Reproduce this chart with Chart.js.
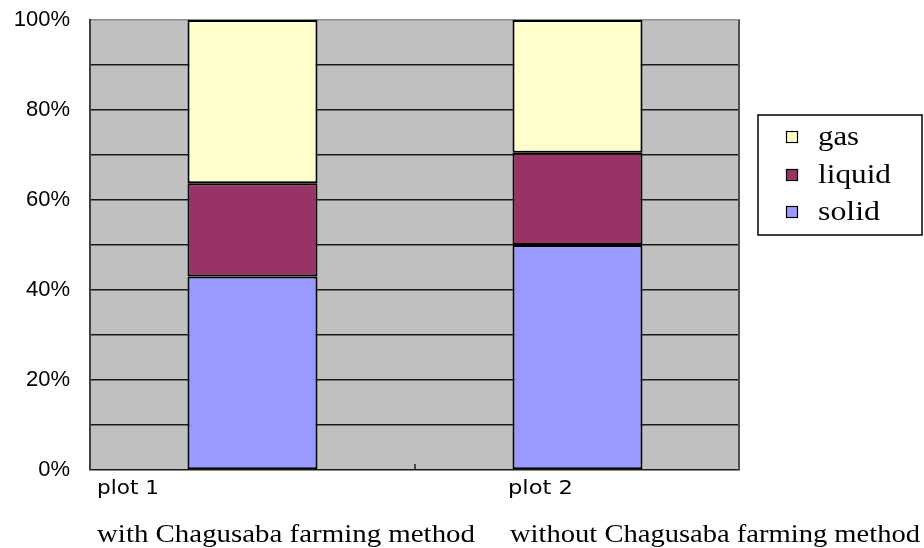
<!DOCTYPE html>
<html>
<head>
<meta charset="utf-8">
<script src="https://cdn.jsdelivr.net/npm/chart.js@4.4.0/dist/chart.umd.min.js"></script>
<style>
  html, body { margin:0; padding:0; background:#fff; }
</style>
</head>
<body>
<canvas id="chart" width="924" height="548"></canvas>
<script>
// data
var plots = ["plot 1", "plot 2"];
var methods = ["with Chagusaba farming method", "without Chagusaba farming method"];
var solid = [43, 50];
var liquid = [20.7, 20.5];
var gas = [36.3, 29.5];
var yLabels = [0, 20, 40, 60, 80, 100];

// draw text stretched to a given width (the original fonts are wider)
function fitText(ctx, text, x, y, w) {
  var m = ctx.measureText(text).width;
  ctx.save();
  ctx.translate(x, y);
  ctx.scale(w / m, 1);
  ctx.fillText(text, 0, 0);
  ctx.restore();
}

// grey plot background + right frame + middle tick
var frame = {
  id: "frame",
  beforeDraw: function(chart) {
    var a = chart.chartArea, ctx = chart.ctx;
    ctx.save();
    ctx.fillStyle = "#c0c0c0";
    ctx.fillRect(a.left, a.top, a.right - a.left, a.bottom - a.top);
    ctx.restore();
  },
  beforeDatasetsDraw: function(chart) {
    var a = chart.chartArea, ctx = chart.ctx;
    var xs = chart.scales.x;
    ctx.save();
    ctx.strokeStyle = "#505050";
    ctx.lineWidth = 2;
    ctx.beginPath();
    ctx.moveTo(a.right - 1, a.top);
    ctx.lineTo(a.right - 1, a.bottom);
    ctx.stroke();
    var mid = (xs.getPixelForValue(0) + xs.getPixelForValue(1)) / 2;
    ctx.strokeStyle = "#222";
    ctx.lineWidth = 1.5;
    ctx.beginPath();
    ctx.moveTo(mid, a.bottom);
    ctx.lineTo(mid, a.bottom - 6);
    ctx.stroke();
    ctx.restore();
  },
  afterDraw: function(chart) {
    var ctx = chart.ctx;
    ctx.save();
    ctx.fillStyle = "#000";
    ctx.textBaseline = "alphabetic";
    // category labels
    ctx.font = "20px 'DejaVu Sans'";
    fitText(ctx, plots[0], 97, 494, 62);
    fitText(ctx, plots[1], 508, 494, 65);
    ctx.font = "26px 'Liberation Serif'";
    fitText(ctx, methods[0], 97, 542, 378);
    fitText(ctx, methods[1], 510, 542, 410);

    // legend
    ctx.lineWidth = 1.5;
    ctx.strokeStyle = "#000";
    ctx.strokeRect(758, 115, 164, 120);
    var ds = chart.data.datasets.slice().reverse();
    var rowY = [137, 175, 212];
    var legW = [41, 73, 62];
    ctx.font = "28px 'Liberation Serif'";
    ds.forEach(function(d, i) {
      ctx.fillStyle = d.backgroundColor;
      ctx.fillRect(786, rowY[i] - 6, 12, 12);
      ctx.lineWidth = 1.2;
      ctx.strokeRect(786.5, rowY[i] - 5.5, 11, 11);
      ctx.fillStyle = "#000";
      fitText(ctx, d.label, 818, rowY[i] + 8, legW[i]);
    });
    ctx.restore();
  }
};

new Chart(document.getElementById("chart"), {
  type: "bar",
  data: {
    labels: plots,
    datasets: [
      { label: "solid", data: solid, backgroundColor: "#9999ff" },
      { label: "liquid", data: liquid, backgroundColor: "#993366" },
      { label: "gas", data: gas, backgroundColor: "#ffffcc" }
    ]
  },
  options: {
    responsive: false,
    animation: false,
    devicePixelRatio: 1,
    layout: { padding: { top: 20, right: 184, bottom: 78, left: 0 } },
    datasets: {
      bar: {
        barPercentage: 0.4,
        categoryPercentage: 1,
        borderColor: "#000",
        borderWidth: 2,
        borderSkipped: false
      }
    },
    plugins: {
      legend: { display: false },
      tooltip: { enabled: false }
    },
    scales: {
      x: {
        stacked: true,
        display: false
      },
      y: {
        stacked: true,
        min: 0,
        max: 100,
        afterFit: function(s) { s.width = 90; s.paddingTop = 0; s.paddingBottom = 0; },
        border: { display: true, color: "#404040", width: 2 },
        grid: {
          drawTicks: false,
          lineWidth: 1.5,
          color: function(c) { return c.tick && c.tick.value === 100 ? "#8c8c8c" : "#1a1a1a"; }
        },
        ticks: {
          stepSize: 10,
          padding: 20,
          color: "#000",
          font: { family: "'Liberation Sans'", size: 22 },
          callback: function(v) { return yLabels.indexOf(v) >= 0 ? v + "%" : ""; }
        }
      }
    }
  },
  plugins: [frame]
});
</script>
</body>
</html>
